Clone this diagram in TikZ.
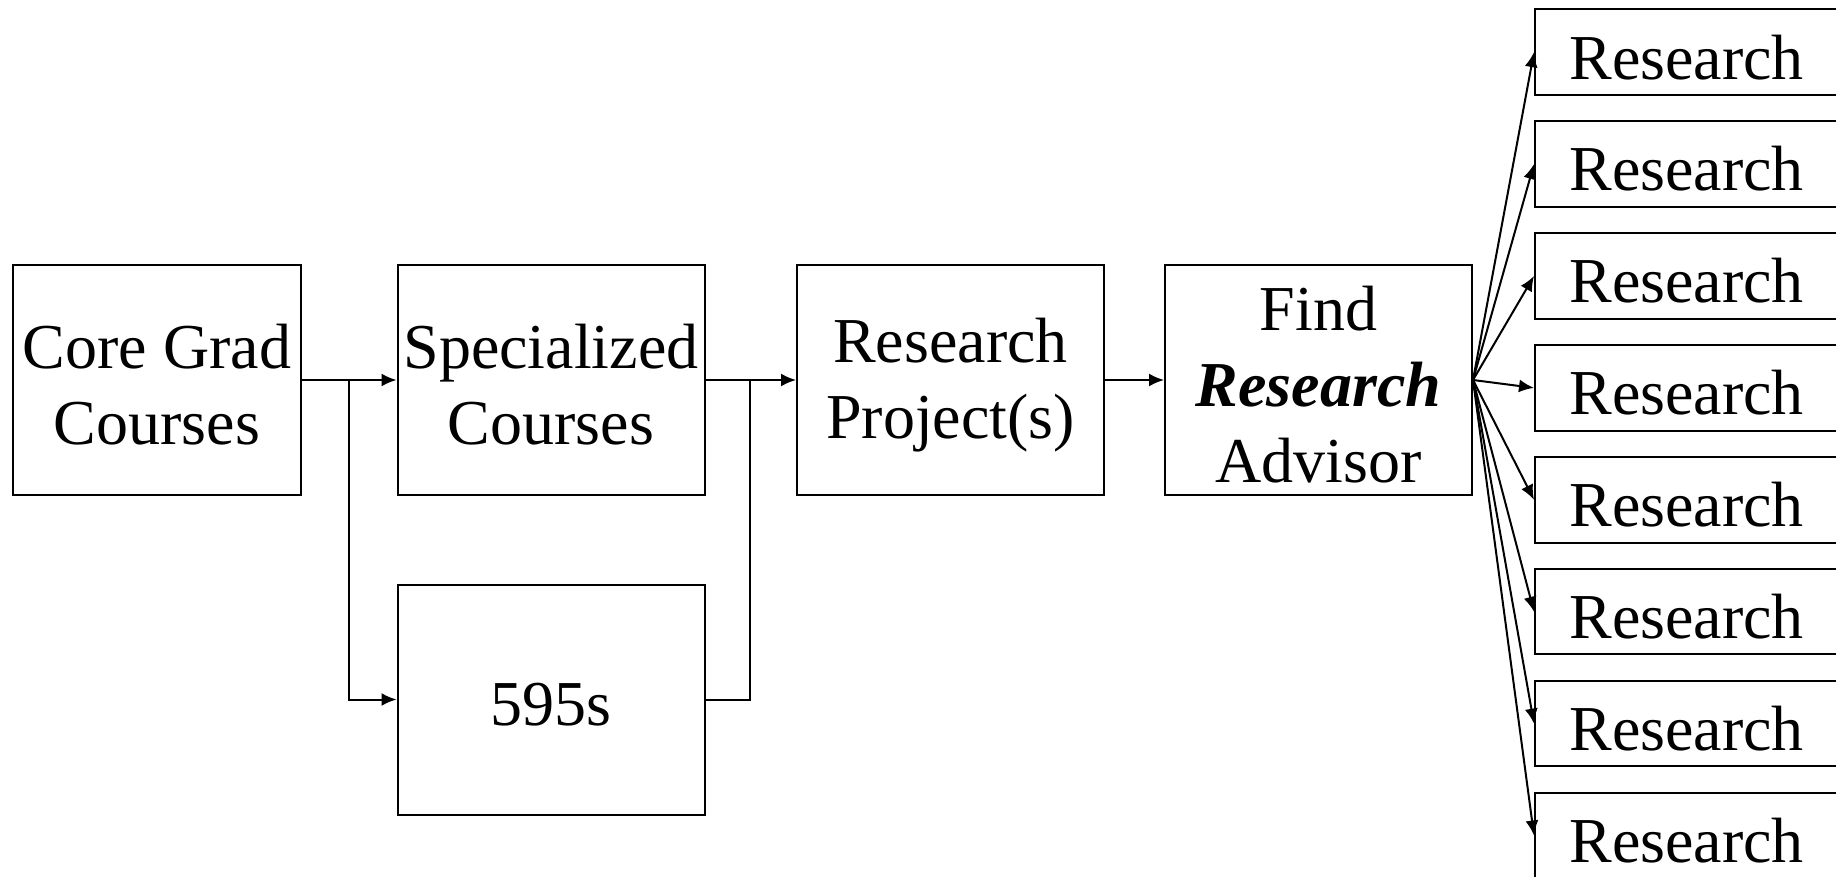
\documentclass[tikz,border=0pt]{standalone}
\usepackage{fontspec}
\setmainfont{Liberation Serif}
\usetikzlibrary{arrows.meta}
\begin{document}
\begin{tikzpicture}[x=0.5pt,y=-0.5pt,
  box/.style={draw=black,line width=1pt,minimum width=153.5pt,minimum height=115pt,inner sep=0pt,
    label={[align=center,inner sep=0pt,yshift=-2.5pt,font=\fontsize{32}{38}\selectfont]center:#1}},
  rbox/.style={draw=black,line width=1pt,minimum width=158pt,minimum height=42.75pt,inner sep=0pt,anchor=west,
    label={[anchor=west,inner sep=0pt,xshift=17.5pt,yshift=-2.5pt,font=\fontsize{32}{38}\selectfont]west:#1}},
  arr/.style={line width=1pt,-{Latex[length=7.5pt,width=6.5pt]}},
  ln/.style={line width=1pt}]
\clip (0,0) rectangle (1836,877);
\fill[white] (0,0) rectangle (1836,877);
\node[box={Core Grad\\Courses},minimum width=144pt] (core) at (157,380) {};
\node[box={Specialized\\Courses}] (spec) at (551,380) {};
\node[box={595s}] (s595) at (551,699.5) {};
\node[box={Research\\Project(s)}] (rp) at (950.5,380) {};
\node[box={Find\\\textbf{\textit{Research}}\\Advisor}] (fa) at (1318.5,380) {};
\foreach \i in {0,...,7}{
  \node[rbox={Research}] (r\i) at (1534,{52.2+111.9*\i}) {};
}
\coordinate (j1) at (349,380);
\coordinate (j2) at (750,380);
\draw[arr] (core.east) -- (spec.west);
\draw[arr] (j1) |- (s595.west);
\draw[arr] (spec.east) -- (rp.west);
\draw[ln] (s595.east) -| (j2);
\draw[arr] (rp.east) -- (fa.west);
\foreach \i in {0,...,7}{
  \draw[arr] (fa.east) -- (r\i.west);
}
\end{tikzpicture}
\end{document}
